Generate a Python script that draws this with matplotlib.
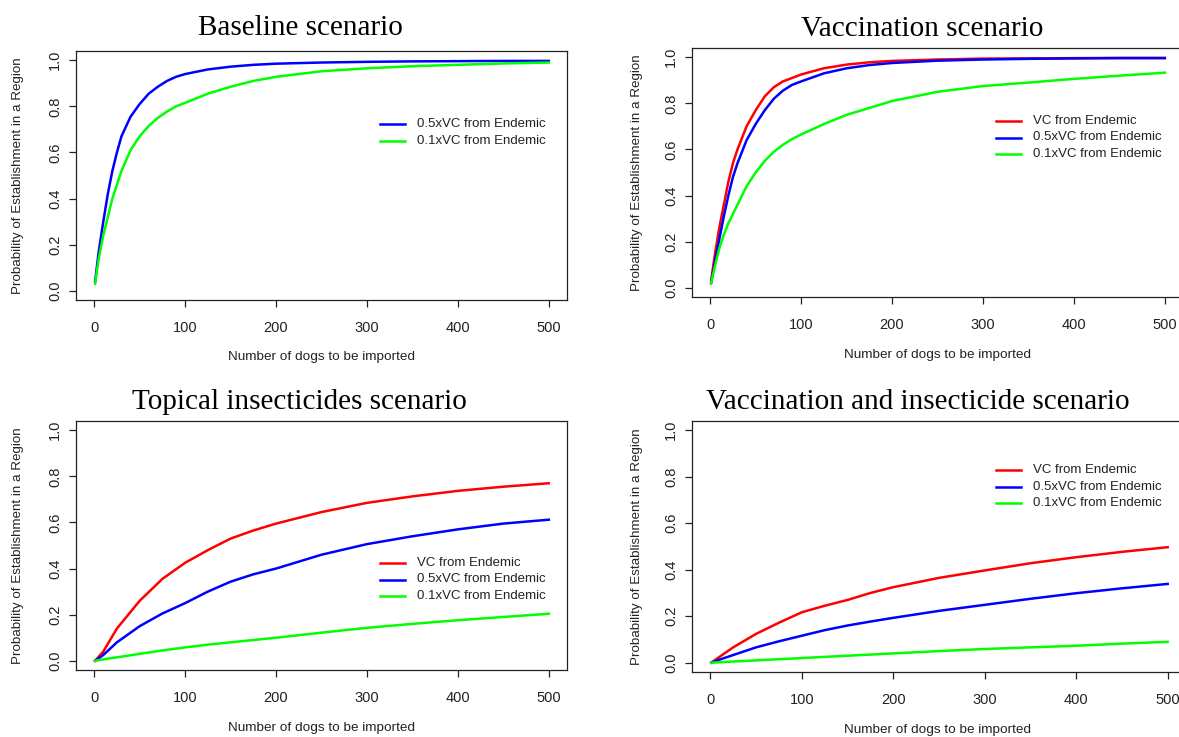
import matplotlib
matplotlib.use("Agg")
import matplotlib.pyplot as plt

# ---------------- data ----------------
series_labels = ["VC from Endemic", "0.5xVC from Endemic", "0.1xVC from Endemic"]
series_colors = ["#FF0000", "#0000FF", "#00FF00"]

titles = ["Baseline scenario", "Vaccination scenario",
          "Topical insecticides scenario", "Vaccination and insecticide scenario"]
xlabel = "Number of dogs to be imported"
ylabel = "Probability of Establishment in a Region"
x_ticks = [0, 100, 200, 300, 400, 500]
y_ticks = [0.0, 0.2, 0.4, 0.6, 0.8, 1.0]
y_ticklabels = ["0.0", "0.2", "0.4", "0.6", "0.8", "1.0"]

fast_x = [1, 5, 10, 15, 20, 25, 30, 40, 50, 60, 70, 80, 90, 100,
          125, 150, 175, 200, 250, 300, 350, 400, 450, 500]

base_half = [0.04, 0.17, 0.30, 0.42, 0.52, 0.60, 0.67, 0.755, 0.81, 0.855, 0.885, 0.91,
             0.928, 0.94, 0.96, 0.972, 0.98, 0.985, 0.99, 0.993, 0.995, 0.996, 0.997, 0.997]
base_tenth = [0.03, 0.14, 0.24, 0.32, 0.40, 0.46, 0.52, 0.61, 0.67, 0.715, 0.75, 0.777,
              0.80, 0.815, 0.855, 0.885, 0.91, 0.928, 0.952, 0.965, 0.974, 0.98, 0.986, 0.99]

vacc_full = [0.03, 0.14, 0.26, 0.36, 0.46, 0.54, 0.60, 0.70, 0.77, 0.83, 0.87, 0.895,
             0.91, 0.925, 0.952, 0.968, 0.978, 0.984, 0.99, 0.994, 0.995, 0.996, 0.997, 0.997]
vacc_half = [0.02, 0.11, 0.21, 0.31, 0.40, 0.48, 0.54, 0.64, 0.71, 0.77, 0.82, 0.855,
             0.88, 0.895, 0.93, 0.952, 0.966, 0.975, 0.985, 0.99, 0.993, 0.995, 0.996, 0.996]
vacc_tenth = [0.02, 0.09, 0.17, 0.23, 0.28, 0.32, 0.36, 0.44, 0.50, 0.55, 0.59, 0.62,
              0.645, 0.665, 0.71, 0.75, 0.78, 0.81, 0.85, 0.875, 0.89, 0.906, 0.92, 0.933]

slow_x = [1, 10, 25, 50, 75, 100, 125, 150, 175, 200, 250, 300, 350, 400, 450, 500]

topi_full = [0.0, 0.04, 0.14, 0.26, 0.355, 0.425, 0.48, 0.53, 0.565, 0.595,
             0.645, 0.685, 0.713, 0.737, 0.755, 0.77]
topi_half = [0.0, 0.025, 0.08, 0.15, 0.205, 0.25, 0.30, 0.343, 0.375, 0.40,
             0.46, 0.506, 0.54, 0.57, 0.595, 0.612]
topi_tenth = [0.0, 0.006, 0.015, 0.03, 0.045, 0.058, 0.07, 0.08, 0.09, 0.10,
              0.122, 0.143, 0.16, 0.176, 0.19, 0.204]

vi_full = [0.0, 0.025, 0.066, 0.124, 0.172, 0.217, 0.245, 0.27, 0.30, 0.325,
           0.365, 0.397, 0.428, 0.454, 0.477, 0.497]
vi_half = [0.0, 0.013, 0.033, 0.066, 0.092, 0.116, 0.14, 0.16, 0.177, 0.193,
           0.223, 0.249, 0.275, 0.299, 0.32, 0.339]
vi_tenth = [0.0, 0.002, 0.005, 0.01, 0.015, 0.02, 0.025, 0.03, 0.035, 0.04,
            0.05, 0.059, 0.066, 0.073, 0.082, 0.09]

panels = [
    (fast_x, [None, base_half, base_tenth]),
    (fast_x, [vacc_full, vacc_half, vacc_tenth]),
    (slow_x, [topi_full, topi_half, topi_tenth]),
    (slow_x, [vi_full, vi_half, vi_tenth]),
]

# ---------------- layout (pixels of the 1179x737 canvas) ----------------
W, H = 1179, 737
boxes = [(76, 567, 51, 300), (692, 1183, 48, 297),
         (76, 567, 421, 670), (692, 1186, 421, 672)]
title_pos = [(300, 28), (922, 29), (299, 402), (918, 402)]
xlab_pos = [(321, 357), (937, 355), (321, 728), (937, 730)]
ylab_x = [18, 637, 18, 637]
legend_pos = [(380, 124), (996, 121), (380, 563), (996, 470)]  # line start x, first row y
legend_dy = 16.5

plt.rcParams['font.family'] = ['Liberation Sans', 'DejaVu Sans']
fig = plt.figure(figsize=(W / 100, H / 100), dpi=100)
fig.patch.set_facecolor("white")

def fx(px):
    return px / W

def fy(py):
    return 1 - py / H

for i, (xs, ys_list) in enumerate(panels):
    l, r, t, b = boxes[i]
    ax = fig.add_axes([fx(l), fy(b), (r - l) / W, (b - t) / H])
    for ys, col in zip(ys_list, series_colors):
        if ys is None:
            continue
        ax.plot(xs, ys, color=col, lw=1.8, solid_joinstyle="round")
    ax.set_xlim(-20, 520)
    ax.set_ylim(-0.04, 1.04)
    ax.set_xticks(x_ticks)
    ax.set_xticklabels([str(v) for v in x_ticks])
    ax.set_yticks(y_ticks)
    ax.set_yticklabels(y_ticklabels, rotation=90, va="center")
    ax.tick_params(axis="both", direction="out", length=5, width=0.9,
                   labelsize=10.5, colors="#222222")
    ax.tick_params(axis="x", pad=10)
    ax.tick_params(axis="y", pad=5)
    ax.tick_params(top=False, right=False)
    for s in ax.spines.values():
        s.set_linewidth(0.9)
        s.set_color("#222222")

    tx, ty = title_pos[i]
    fig.text(fx(tx), fy(ty), titles[i], family="Liberation Serif", fontsize=21,
             ha="center", va="center", color="black")
    lx, ly = xlab_pos[i]
    fig.text(fx(lx), fy(ly), xlabel, fontsize=9.7, ha="center", va="center", color="#222222")
    fig.text(fx(ylab_x[i]), fy((t + b) / 2), ylabel, fontsize=9.6, rotation=90,
             ha="center", va="center", color="#222222")

    # legend (no box), drawn in figure pixels
    gx, gy = legend_pos[i]
    row = 0
    for lab, col, ys in zip(series_labels, series_colors, ys_list):
        if ys is None:
            continue
        yy = gy + row * legend_dy
        fig.add_artist(plt.Line2D([fx(gx), fx(gx + 25)], [fy(yy), fy(yy)],
                                  transform=fig.transFigure, color=col, lw=1.8))
        fig.text(fx(gx + 37), fy(yy), lab, fontsize=9.5, ha="left", va="center",
                 color="#222222")
        row += 1

fig.savefig("out.png", dpi=100, facecolor="white")
